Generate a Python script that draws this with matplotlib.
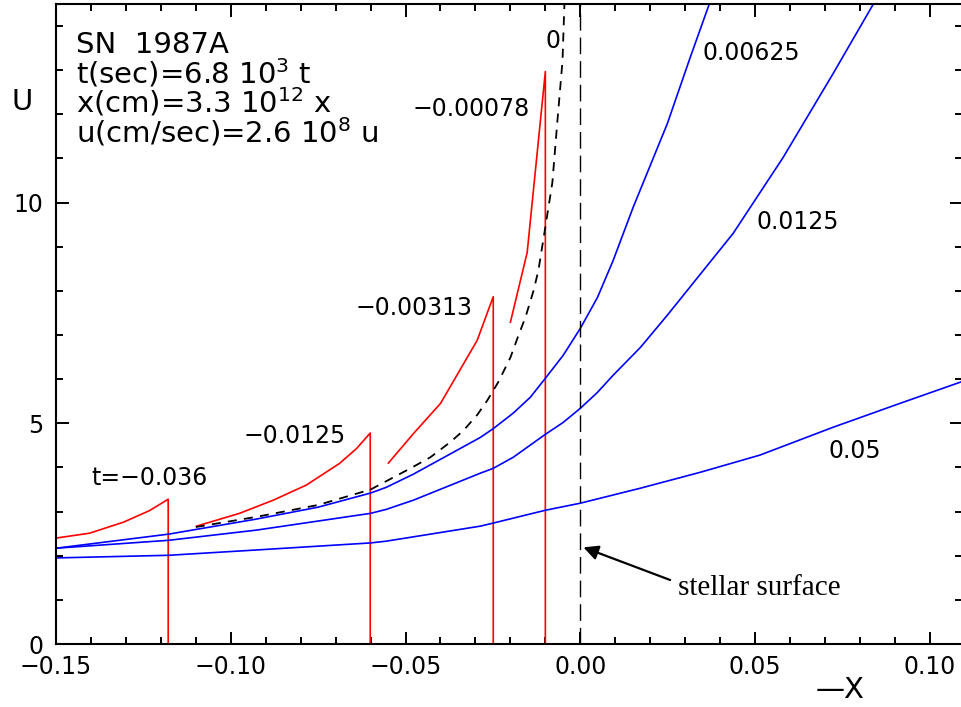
import numpy as np
import matplotlib
matplotlib.use("Agg")
import matplotlib.pyplot as plt
from matplotlib.ticker import MultipleLocator

# red curves (t < 0), each ends with the shock dropping to u = 0
red1_x = [-0.150, -0.1404, -0.1307, -0.1233, -0.1179, -0.1179]
red1_u = [2.40, 2.51, 2.76, 3.02, 3.28, 0.0]
red2_x = [-0.1098, -0.0975, -0.0878, -0.0784, -0.0689, -0.0640, -0.0601, -0.0601]
red2_u = [2.67, 2.96, 3.26, 3.60, 4.09, 4.43, 4.78, 0.0]
red3_x = [-0.0549, -0.0477, -0.0400, -0.0295, -0.0249, -0.0249]
red3_u = [4.10, 4.77, 5.45, 6.88, 7.87, 0.0]
red4_x = [-0.0200, -0.0152, -0.0100, -0.0100]
red4_u = [7.29, 8.87, 12.97, 0.0]

# t = 0 (dashed)
t0_x = [-0.110, -0.0927, -0.075, -0.060, -0.0543, -0.0486, -0.0429, -0.0371,
        -0.0334, -0.0294, -0.0266, -0.0235, -0.0200, -0.0177, -0.0157, -0.0134,
        -0.0120, -0.0106, -0.0080, -0.0065, -0.0051, -0.0045]
t0_u = [2.65, 2.88, 3.15, 3.50, 3.74, 3.98, 4.23, 4.58,
        4.84, 5.20, 5.52, 5.93, 6.49, 6.99, 7.40, 8.00,
        8.46, 9.15, 10.45, 11.90, 13.20, 14.60]

# blue curves (t > 0)
b1_x = [-0.150, -0.1177, -0.0927, -0.075, -0.060, -0.0555, -0.0477, -0.0286,
        -0.0249, -0.0192, -0.0143, -0.010, -0.0049, 0.000, 0.0049, 0.0094,
        0.0151, 0.0249, 0.0314, 0.0369]
b1_u = [2.17, 2.49, 2.83, 3.10, 3.42, 3.55, 3.85, 4.68,
        4.88, 5.23, 5.59, 6.02, 6.54, 7.15, 7.85, 8.69,
        9.89, 11.79, 13.28, 14.50]
b2_x = [-0.150, -0.1177, -0.0927, -0.060, -0.0555, -0.0477, -0.0286, -0.0249,
        -0.0192, -0.010, -0.0049, 0.000, 0.0049, 0.0094, 0.0172, 0.0249,
        0.0437, 0.0580, 0.0723, 0.0837]
b2_u = [2.17, 2.35, 2.58, 2.96, 3.05, 3.26, 3.87, 3.98,
        4.23, 4.75, 5.02, 5.34, 5.70, 6.09, 6.72, 7.45,
        9.30, 11.02, 12.92, 14.48]
b3_x = [-0.150, -0.1177, -0.0927, -0.060, -0.0555, -0.0286, -0.0249, -0.010,
        0.000, 0.0172, 0.0343, 0.0514, 0.0723, 0.0914, 0.1090]
b3_u = [1.95, 2.01, 2.13, 2.29, 2.33, 2.67, 2.74, 3.03,
        3.19, 3.53, 3.89, 4.28, 4.91, 5.45, 5.94]

# curve labels: (text, x, u)
labels = [("t=\u22120.036", -0.1400, 3.76),
          ("\u22120.0125", -0.0963, 4.71),
          ("\u22120.00313", -0.0643, 7.62),
          ("\u22120.00078", -0.0480, 12.13),
          ("0", -0.0100, 13.67),
          ("0.00625", 0.0351, 13.39),
          ("0.0125", 0.0503, 9.55),
          ("0.05", 0.0709, 4.37)]

info = ["SN  1987A",
        r"t(sec)=6.8 10$^{3}$ t",
        r"x(cm)=3.3 10$^{12}$ x",
        r"u(cm/sec)=2.6 10$^{8}$ u"]
info_u = [13.39, 12.71, 12.04, 11.36]

plt.rcParams['font.family'] = 'DejaVu Sans'
fig = plt.figure(figsize=(9.61, 7.07), dpi=100)
ax = fig.add_axes([56/961, 63/707, 906/961, 640/707])

red = '#ff0000'
blue = '#0000ff'
lw = 1.2
for xs, us in [(red1_x, red1_u), (red2_x, red2_u), (red3_x, red3_u), (red4_x, red4_u)]:
    ax.plot(xs, us, color=red, lw=lw)
ax.plot(t0_x, t0_u, color='black', lw=1.3, dashes=(5, 4))
for xs, us in [(b1_x, b1_u), (b2_x, b2_u), (b3_x, b3_u)]:
    ax.plot(xs, us, color=blue, lw=lw)

# stellar surface
ax.axvline(0.0, color='black', lw=1.0, dashes=(12, 5))
ax.annotate("", xy=(0.0009, 2.19), xytext=(0.0257, 1.45),
            arrowprops=dict(arrowstyle='-|>', color='black', lw=1.6,
                            mutation_scale=22, shrinkA=0, shrinkB=0))
ax.text(0.028, 1.11, "stellar surface", fontsize=21, family='Liberation Serif',
        ha='left', va='baseline')

for txt, x, u in labels:
    ax.text(x, u, txt, fontsize=17, ha='left', va='center')
for txt, u in zip(info, info_u):
    ax.text(-0.1442, u, txt, fontsize=21, ha='left', va='baseline')

ax.set_xlim(-0.15, 0.1092)
ax.set_ylim(0, 14.5)
ax.xaxis.set_major_locator(MultipleLocator(0.05))
ax.xaxis.set_minor_locator(MultipleLocator(0.01))
ax.yaxis.set_major_locator(MultipleLocator(5))
ax.yaxis.set_minor_locator(MultipleLocator(1))
ax.xaxis.set_major_formatter(lambda v, p: f"{v:.2f}".replace("-", "\u2212"))
ax.yaxis.set_major_formatter(lambda v, p: f"{v:.0f}")
ax.tick_params(which='both', direction='in', top=True, right=True, width=1.4,
               labelsize=17)
ax.tick_params(axis='x', which='major', pad=8)
ax.tick_params(axis='y', which='major', pad=9)
ax.tick_params(which='major', length=9)
ax.tick_params(which='minor', length=5)
for s in ax.spines.values():
    s.set_linewidth(1.5)

fig.text(22/961, 1 - 102/707, "U", fontsize=21, ha='center', va='center')
fig.text(840/961, 1 - 690/707, "\u2014X", fontsize=21, ha='center', va='center')

fig.savefig("out.png", dpi=100)
